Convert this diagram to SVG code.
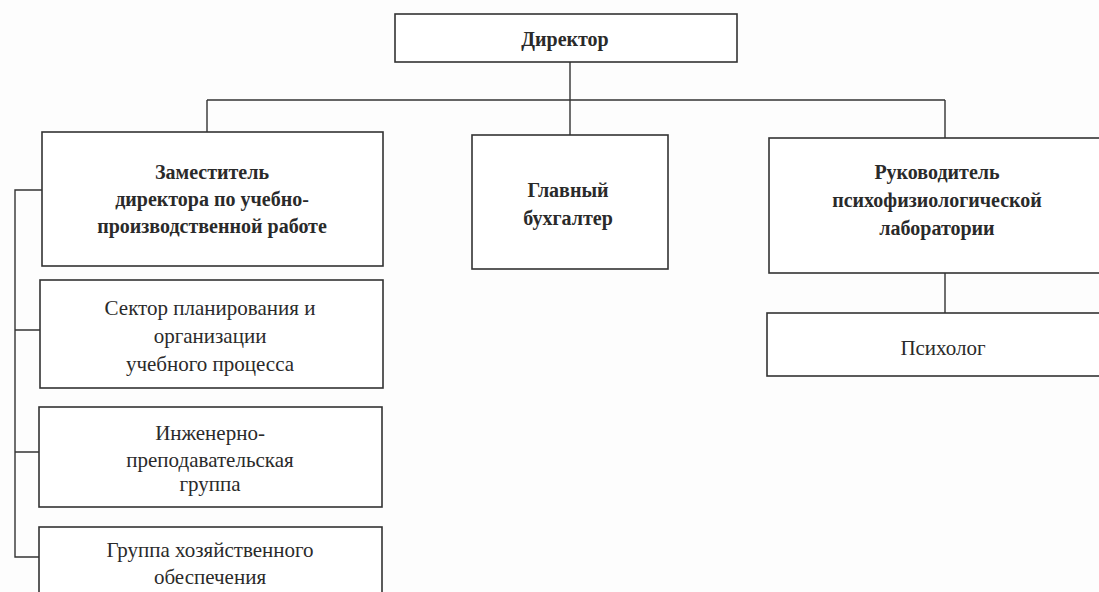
<svg xmlns="http://www.w3.org/2000/svg" width="1099" height="592" viewBox="0 0 1099 592">
<style>
.box{fill:#fff;stroke:#333;stroke-width:1.6}
.ln{fill:none;stroke:#333;stroke-width:1.4}
text{font-family:"Liberation Serif","Times New Roman",serif;fill:#2a2a2a;text-anchor:middle;dominant-baseline:central}
.b{font-weight:bold;font-size:20px}
.r{font-size:21px}
</style>
<rect width="1099" height="592" fill="#fdfdfd"/>
<g id="connectors">
<path class="ln" d="M570 62V100M207 100H945M207 100V132M570 100V135M945 100V138M945 273V313"/>
<path class="ln" d="M42 190H15V557H40M15 330H40M15 452H39"/>
</g>
<g id="director"><rect class="box" x="395" y="14" width="342" height="48"/><text class="b" x="565" y="39">Директор</text></g>
<g id="deputy"><rect class="box" x="42" y="132" width="341" height="134"/>
<text class="b" x="212" y="172">Заместитель</text><text class="b" x="212" y="199">директора по учебно-</text><text class="b" x="212" y="226">производственной работе</text></g>
<g id="accountant"><rect class="box" x="472" y="135" width="196" height="134"/>
<text class="b" x="568" y="190">Главный</text><text class="b" x="568" y="218">бухгалтер</text></g>
<g id="lab-head"><rect class="box" x="769" y="138" width="340" height="135"/>
<text class="b" x="937" y="172">Руководитель</text><text class="b" x="937" y="200">психофизиологической</text><text class="b" x="937" y="228">лаборатории</text></g>
<g id="psychologist"><rect class="box" x="767" y="313" width="342" height="63"/><text class="r" x="943" y="348">Психолог</text></g>
<g id="planning"><rect class="box" x="40" y="280" width="343" height="108"/>
<text class="r" x="210" y="308">Сектор планирования и</text><text class="r" x="210" y="336">организации</text><text class="r" x="210" y="364">учебного процесса</text></g>
<g id="engineering"><rect class="box" x="39" y="407" width="343" height="100"/>
<text class="r" x="210" y="433">Инженерно-</text><text class="r" x="210" y="460">преподавательская</text><text class="r" x="210" y="484">группа</text></g>
<g id="maintenance"><rect class="box" x="39" y="527" width="343" height="80"/>
<text class="r" x="210" y="550">Группа хозяйственного</text><text class="r" x="210" y="577">обеспечения</text></g>
</svg>
